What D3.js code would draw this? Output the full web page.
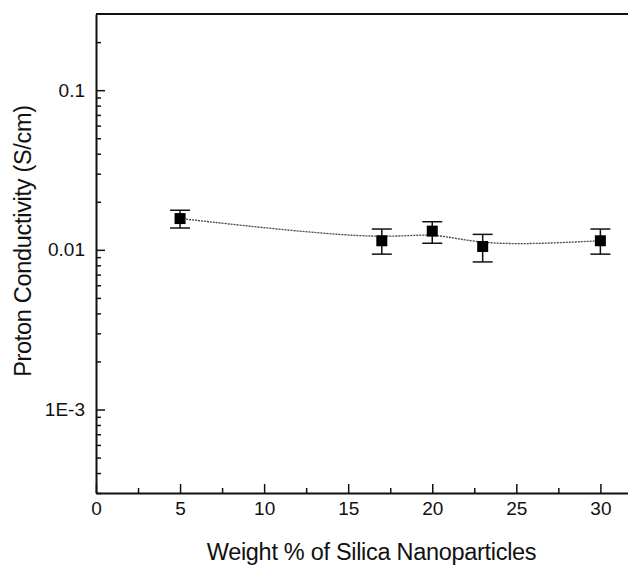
<!DOCTYPE html>
<html>
<head>
<meta charset="utf-8">
<script src="https://cdn.jsdelivr.net/npm/d3@7"></script>
<style>
  body { margin: 0; background: #fff; overflow: hidden; }
  svg text { font-family: "Liberation Sans", Arial, sans-serif; fill: #111; }
</style>
</head>
<body>
<script>
// silica loading (wt %) and measured proton conductivity (S/cm)
var weights = [5, 17, 20, 23, 30];
var conductivity = [0.0157, 0.0114, 0.0131, 0.0105, 0.0114];
var errUpper = [0.0177, 0.0135, 0.0150, 0.0125, 0.0135];
var errLower = [0.0137, 0.0094, 0.0110, 0.0084, 0.0094];

var xMajor = [0, 5, 10, 15, 20, 25, 30];
var xMinor = [2.5, 7.5, 12.5, 17.5, 22.5, 27.5];
var yMajor = [0.1, 0.01, 0.001];
var yLabels = ["0.1", "0.01", "1E-3"];

var W = 628, H = 566;
var margin = {top: 14, right: -6, bottom: 73, left: 96},
    width = W - margin.left - margin.right,
    height = H - margin.top - margin.bottom;

var svg = d3.select("body").append("svg")
    .attr("width", W)
    .attr("height", H)
    .style("display", "block")
    .append("g")
    .attr("transform", "translate(" + margin.left + "," + margin.top + ")");

var x = d3.scaleLinear().domain([0, 32]).range([0, width]);
var y = d3.scaleLog().domain([3e-4, 0.3]).range([height, 0]);

// minor log ticks 2..9 for each decade inside the domain
var yMinor = [];
[1e-4, 1e-3, 1e-2, 1e-1].forEach(function(dec){
    for (var m = 2; m <= 9; m++) {
        var v = +(m * dec).toPrecision(3);
        if (v >= 3e-4 && v < 0.3) yMinor.push(v);
    }
});

// frame top
svg.append("line")
    .attr("x1", 0).attr("x2", width)
    .attr("y1", 0).attr("y2", 0)
    .attr("stroke", "#111").attr("stroke-width", 2);

// x axis
svg.append("g")
    .attr("transform", "translate(0," + height + ")")
    .call(d3.axisBottom(x).tickValues(xMajor).tickSizeInner(-9).tickSizeOuter(0).tickPadding(9).tickFormat(d3.format("d")));
svg.append("g")
    .attr("transform", "translate(0," + height + ")")
    .call(d3.axisBottom(x).tickValues(xMinor).tickSize(-5).tickFormat(""))
    .select(".domain").remove();

// y axis
svg.append("g")
    .call(d3.axisLeft(y).tickValues(yMajor).tickSizeInner(-9).tickSizeOuter(0).tickPadding(11)
        .tickFormat(function(d, i){ return yLabels[i]; }));
svg.append("g")
    .call(d3.axisLeft(y).tickValues(yMinor).tickSize(-5).tickFormat(""))
    .select(".domain").remove();

svg.selectAll(".domain").attr("stroke", "#111").attr("stroke-width", 2);
svg.selectAll(".tick line").attr("stroke", "#111").attr("stroke-width", 1.5);
svg.selectAll(".tick text").style("font-size", "19px");

// smoothed dotted trend line
var pts = weights.map(function(w, i){ return [w, conductivity[i]]; });
var line = d3.line()
    .x(function(d){ return x(d[0]); })
    .y(function(d){ return y(d[1]); })
    .curve(d3.curveBasis);
svg.append("path")
    .datum(pts)
    .attr("d", line)
    .attr("fill", "none")
    .attr("stroke", "#444")
    .attr("stroke-width", 1.3)
    .attr("stroke-dasharray", "2,1");

// error bars
var eb = svg.selectAll(".err")
    .data(weights)
    .enter().append("g")
    .attr("class", "err")
    .attr("stroke", "#111")
    .attr("stroke-width", 1.5);
eb.append("line")
    .attr("x1", function(d){ return x(d); })
    .attr("x2", function(d){ return x(d); })
    .attr("y1", function(d, i){ return y(errUpper[i]); })
    .attr("y2", function(d, i){ return y(errLower[i]); });
eb.append("line")
    .attr("x1", function(d){ return x(d) - 10; })
    .attr("x2", function(d){ return x(d) + 10; })
    .attr("y1", function(d, i){ return y(errUpper[i]); })
    .attr("y2", function(d, i){ return y(errUpper[i]); });
eb.append("line")
    .attr("x1", function(d){ return x(d) - 10; })
    .attr("x2", function(d){ return x(d) + 10; })
    .attr("y1", function(d, i){ return y(errLower[i]); })
    .attr("y2", function(d, i){ return y(errLower[i]); });

// square markers
svg.selectAll(".pt")
    .data(weights)
    .enter().append("rect")
    .attr("class", "pt")
    .attr("x", function(d){ return x(d) - 5.5; })
    .attr("y", function(d, i){ return y(conductivity[i]) - 5.5; })
    .attr("width", 11)
    .attr("height", 11)
    .attr("fill", "#000");

// axis titles
svg.append("text")
    .attr("x", 371.5 - margin.left)
    .attr("y", 560 - margin.top)
    .attr("text-anchor", "middle")
    .style("font-size", "23.5px")
    .style("letter-spacing", "-0.3px")
    .text("Weight % of Silica Nanoparticles");

svg.append("text")
    .attr("transform", "translate(" + (31 - margin.left) + "," + (241 - margin.top) + ") rotate(-90)")
    .attr("text-anchor", "middle")
    .style("font-size", "23.5px")
    .style("letter-spacing", "-0.3px")
    .text("Proton Conductivity (S/cm)");
</script>
</body>
</html>
